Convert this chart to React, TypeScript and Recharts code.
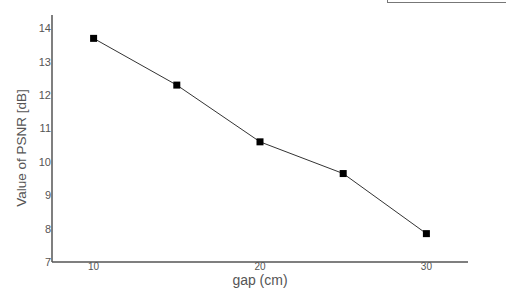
import { Line, LineChart, XAxis, YAxis, Label } from "recharts";

const gaps = [10, 15, 20, 25, 30];
const psnr = [13.7, 12.3, 10.6, 9.65, 7.85];
const xTicks = [10, 20, 30];
const yTicks = [7, 8, 9, 10, 11, 12, 13, 14];

const data = gaps.map((g, i) => ({ gap: g, psnr: psnr[i] }));

const SquareDot = (props: any) => {
  const { cx, cy } = props;
  if (cx == null || cy == null) return null;
  return <rect x={cx - 3.5} y={cy - 3.5} width={7} height={7} fill="#000" />;
};

const YTitle = () => (
  <text
    x={21}
    y={148}
    transform="rotate(-90 21 148)"
    textAnchor="middle"
    dominantBaseline="central"
    fontSize={13.5}
    fill="#555"
  >
    Value of PSNR [dB]
  </text>
);

const XTitle = () => (
  <text x={260} y={284.5} textAnchor="middle" fontSize={14} fill="#555">
    gap (cm)
  </text>
);

export default function App() {
  return (
    <div
      style={{
        position: "absolute",
        left: 0,
        top: 0,
        width: 506,
        height: 289,
        background: "#fff",
        fontFamily: "'Liberation Sans', Arial, sans-serif",
        overflow: "hidden",
      }}
    >
      <div
        style={{
          position: "absolute",
          left: 387,
          top: -2,
          width: 140,
          height: 4,
          borderLeft: "1.5px solid #777",
          borderBottom: "1.5px solid #777",
        }}
      />
      <LineChart
        width={506}
        height={289}
        data={data}
        margin={{ top: 15, right: 38, left: 0, bottom: 0 }}
      >
        <XAxis
          dataKey="gap"
          type="number"
          domain={[7.5, 32.5]}
          ticks={xTicks}
          height={27}
          tickLine={false}
          tickSize={0}
          tickMargin={1}
          stroke="#555"
          strokeWidth={1.5}
          tick={{ fill: "#555", fontSize: 10 }}
        >
          <Label content={XTitle} />
        </XAxis>
        <YAxis
          type="number"
          domain={[7, 14.4]}
          ticks={yTicks}
          width={52}
          tickLine={false}
          tickSize={0}
          tickMargin={1}
          stroke="#555"
          strokeWidth={1.5}
          tick={{ fill: "#555", fontSize: 11 }}
        >
          <Label content={YTitle} />
        </YAxis>
        <Line
          dataKey="psnr"
          type="linear"
          stroke="#333"
          strokeWidth={1}
          dot={<SquareDot />}
          activeDot={false}
          isAnimationActive={false}
        />
      </LineChart>
    </div>
  );
}
